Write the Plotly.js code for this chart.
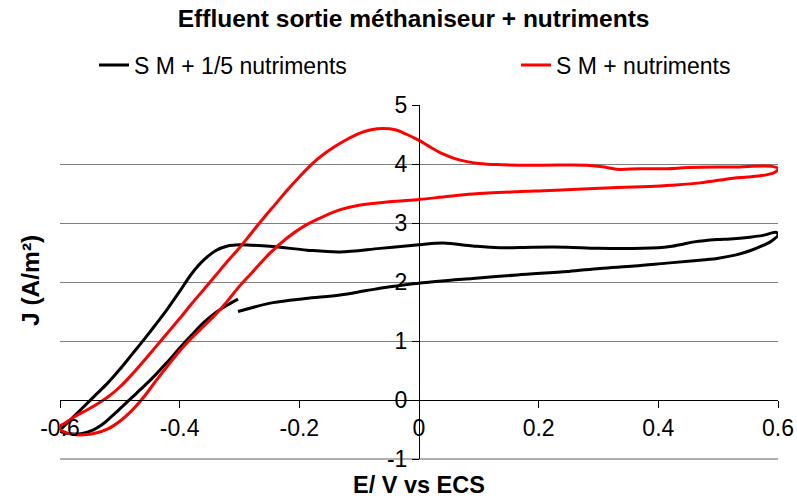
<!DOCTYPE html>
<html>
<head>
<meta charset="utf-8">
<script src="https://cdn.plot.ly/plotly-3.0.1.min.js"></script>
<style>
  html, body { margin: 0; padding: 0; background: #ffffff; }
  #chart { width: 797px; height: 499px; }
</style>
</head>
<body>
<div id="chart"></div>
<script>
// Cyclic voltammograms: current density J (A/m²) against potential E (V vs ECS)

// S M + 1/5 nutriments
const blackE = [-0.3025, -0.244, -0.19, -0.132, -0.09, -0.0485, 0, 0.09, 0.164, 0.25, 0.3025, 0.36, 0.414, 0.46,
  0.498, 0.53, 0.553, 0.575, 0.59, 0.6,
  0.597, 0.575, 0.553, 0.52, 0.498, 0.46, 0.441, 0.42, 0.40, 0.30, 0.247, 0.19, 0.135, 0.09, 0.04, 0.0,
  -0.065, -0.132, -0.187, -0.244, -0.30,
  -0.32, -0.34, -0.36, -0.38, -0.40, -0.42, -0.44, -0.46, -0.48, -0.50, -0.52, -0.54, -0.56, -0.58, -0.595, -0.6,
  -0.585, -0.565, -0.545, -0.53, -0.515, -0.50, -0.48, -0.46, -0.44, -0.42, -0.40, -0.38, -0.36, -0.34, -0.32, -0.3025];
const blackJ = [1.50, 1.65, 1.72, 1.78, 1.85, 1.92, 1.98, 2.06, 2.12, 2.18, 2.23, 2.27, 2.32, 2.36,
  2.40, 2.46, 2.53, 2.62, 2.70, 2.80,
  2.84, 2.79, 2.76, 2.73, 2.72, 2.68, 2.64, 2.60, 2.58, 2.57, 2.59, 2.59, 2.58, 2.61, 2.66, 2.63,
  2.57, 2.51, 2.54, 2.60, 2.63,
  2.61, 2.53, 2.37, 2.14, 1.84, 1.55, 1.28, 1.02, 0.77, 0.52, 0.29, 0.09, -0.11, -0.31, -0.46, -0.52,
  -0.57, -0.57, -0.51, -0.42, -0.29, -0.15, 0.04, 0.23, 0.43, 0.65, 0.88, 1.10, 1.31, 1.48, 1.61, 1.71];

// S M + nutriments
const redE = [-0.603, -0.59, -0.575, -0.555, -0.535, -0.52, -0.50, -0.48, -0.46, -0.44, -0.42, -0.40, -0.38,
  -0.36, -0.34, -0.32, -0.30, -0.28, -0.26, -0.24, -0.22, -0.20, -0.18, -0.16, -0.14, -0.12, -0.10, -0.08,
  -0.06, -0.04, -0.02, 0.0, 0.02, 0.04, 0.06, 0.08, 0.10, 0.13, 0.2, 0.28, 0.31, 0.33, 0.37, 0.414, 0.45,
  0.525, 0.59, 0.6,
  0.595, 0.582, 0.55, 0.525, 0.47, 0.42, 0.386, 0.3025, 0.219, 0.164, 0.09, 0.04, 0, -0.05, -0.10, -0.13,
  -0.16, -0.19, -0.22, -0.25, -0.28, -0.30, -0.32, -0.34, -0.36, -0.38, -0.40, -0.42, -0.44, -0.46, -0.48,
  -0.50, -0.52, -0.54, -0.56, -0.58, -0.595, -0.603];
const redJ = [-0.47, -0.38, -0.28, -0.17, -0.05, 0.05, 0.22, 0.43, 0.66, 0.90, 1.14, 1.38, 1.63,
  1.87, 2.11, 2.35, 2.58, 2.83, 3.08, 3.32, 3.56, 3.78, 3.99, 4.16, 4.30, 4.42, 4.52, 4.58,
  4.60, 4.58, 4.50, 4.40, 4.28, 4.17, 4.09, 4.04, 4.01, 3.99, 3.98, 3.98, 3.95, 3.91, 3.92, 3.92, 3.94,
  3.95, 3.96, 3.92,
  3.86, 3.82, 3.78, 3.76, 3.68, 3.64, 3.62, 3.59, 3.55, 3.53, 3.49, 3.44, 3.40, 3.36, 3.30, 3.23,
  3.11, 2.96, 2.75, 2.48, 2.15, 1.93, 1.68, 1.45, 1.25, 1.05, 0.83, 0.58, 0.32, 0.05, -0.18,
  -0.36, -0.49, -0.56, -0.59, -0.58, -0.53, -0.47];

const seriesNames = ['S M + 1/5 nutriments', 'S M + nutriments'];
const xTickVals = [-0.6, -0.4, -0.2, 0, 0.2, 0.4, 0.6];
const xTickText = ['-0.6', '-0.4', '-0.2', '0', '0.2', '0.4', '0.6'];
const yTickVals = [-1, 0, 1, 2, 3, 4, 5];
const yTickText = ['-1', '0', '1', '2', '3', '4', '5'];

const FONT = 'Liberation Sans, Arial, sans-serif';

const traces = [
  { x: blackE, y: blackJ, name: seriesNames[0], mode: 'lines', legend: 'legend',
    line: { color: '#000000', width: 3, shape: 'spline', smoothing: 1 } },
  { x: redE, y: redJ, name: seriesNames[1], mode: 'lines', legend: 'legend2',
    line: { color: '#ff0000', width: 3, shape: 'spline', smoothing: 1 } }
];

const legendStyle = (left) => ({
  orientation: 'h', x: (left - 60) / 718, xanchor: 'left',
  y: (459 - 65) / 354, yanchor: 'middle',
  font: { family: FONT, size: 23, color: '#000000' },
  bgcolor: 'rgba(0,0,0,0)', borderwidth: 0
});

const layout = {
  width: 797, height: 499,
  margin: { l: 60, r: 19, t: 105, b: 40, pad: 0 },
  paper_bgcolor: '#ffffff', plot_bgcolor: '#ffffff',
  font: { family: FONT, color: '#000000' },
  title: {
    text: '<b>Effluent sortie méthaniseur + nutriments</b>',
    font: { family: FONT, size: 24.5, color: '#000000' },
    xref: 'container', x: 0.519, xanchor: 'center',
    yref: 'container', y: 1 - 18 / 499, yanchor: 'middle'
  },
  showlegend: true,
  legend: legendStyle(94),
  legend2: legendStyle(516),
  xaxis: {
    range: [-0.6, 0.6], anchor: 'free', position: 1 / 6,
    tickmode: 'array', tickvals: xTickVals, ticktext: xTickText,
    ticks: 'outside', ticklen: 7, tickcolor: '#000000', tickwidth: 1,
    showline: true, linecolor: '#000000', linewidth: 1,
    showgrid: false, zeroline: false,
    tickfont: { family: FONT, size: 23, color: '#000000' }
  },
  yaxis: {
    range: [-1, 5], anchor: 'free', position: 0.5,
    tickmode: 'array', tickvals: yTickVals, ticktext: yTickText,
    ticks: 'outside', ticklen: 7, tickcolor: '#000000', tickwidth: 1,
    showline: true, linecolor: '#000000', linewidth: 1,
    showgrid: true, gridcolor: '#808080', gridwidth: 1, zeroline: false,
    tickfont: { family: FONT, size: 23, color: '#000000' }
  },
  shapes: [
    // bottom edge of the plotting area
    { type: 'line', xref: 'paper', yref: 'paper', x0: 0, x1: 1, y0: 0, y1: 0,
      line: { color: '#606060', width: 1 }, layer: 'below' }
  ],
  annotations: [
    { text: '<b>E/ V vs ECS</b>', xref: 'paper', yref: 'paper',
      x: 0.5, y: -(485 - 459) / 354, xanchor: 'center', yanchor: 'middle',
      showarrow: false, font: { family: FONT, size: 23.5, color: '#000000' } },
    { text: '<b>J (A/m²)</b>', xref: 'paper', yref: 'paper',
      x: (30 - 60) / 718, y: (459 - 281) / 354, xanchor: 'center', yanchor: 'middle', textangle: -90,
      showarrow: false, font: { family: FONT, size: 24.5, color: '#000000' } }
  ]
};

Plotly.newPlot('chart', traces, layout, { staticPlot: true, displayModeBar: false });
</script>
</body>
</html>
